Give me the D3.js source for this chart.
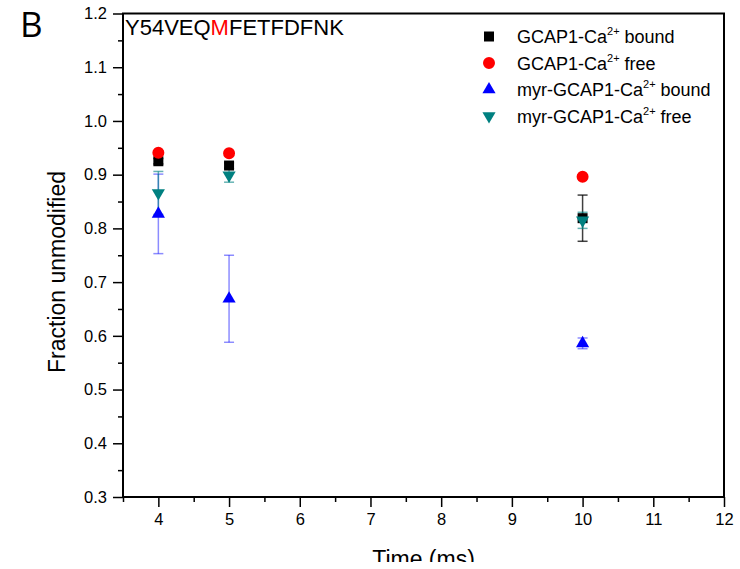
<!DOCTYPE html>
<html>
<head>
<meta charset="utf-8">
<script src="https://cdn.jsdelivr.net/npm/d3@7"></script>
<style>
  body { margin: 0; background: #fff; }
  svg { display: block; font-family: "Liberation Sans", Arial, sans-serif; }
</style>
</head>
<body>
<svg id="chart" width="740" height="569"></svg>
<script>
// time points (ms)
const times = [4, 5, 10];

// fraction unmodified per series, with error bar half-widths
const gcapBound = [0.925, 0.917, 0.819];
const gcapBoundErr = [0.005, 0.005, 0.043];
const gcapFree = [0.941, 0.940, 0.896];
const gcapFreeErr = [0.003, 0.004, 0.003];
const myrBound = [0.827, 0.669, 0.586];
const myrBoundErr = [0.074, 0.081, 0.010];
const myrFree = [0.866, 0.899, 0.815];
const myrFreeErr = [0.040, 0.013, 0.015];

const xTicks = [4, 5, 6, 7, 8, 9, 10, 11, 12];
const xMinor = [3.5, 4.5, 5.5, 6.5, 7.5, 8.5, 9.5, 10.5, 11.5];
const yTicks = [0.3, 0.4, 0.5, 0.6, 0.7, 0.8, 0.9, 1.0, 1.1, 1.2];
const yMinor = [0.35, 0.45, 0.55, 0.65, 0.75, 0.85, 0.95, 1.05, 1.15];

const series = [
	{name: 'GCAP1-Ca', state: ' bound', values: gcapBound, err: gcapBoundErr, color: '#000000', symbol: d3.symbolSquare, size: 100, rot: 0, errOpacity: 0.75},
	{name: 'GCAP1-Ca', state: ' free', values: gcapFree, err: gcapFreeErr, color: '#ff0000', symbol: d3.symbolCircle, size: 113, rot: 0, errOpacity: 0.6},
	{name: 'myr-GCAP1-Ca', state: ' bound', values: myrBound, err: myrBoundErr, color: '#0000ff', symbol: d3.symbolTriangle, size: 75, rot: 0, errOpacity: 0.45},
	{name: 'myr-GCAP1-Ca', state: ' free', values: myrFree, err: myrFreeErr, color: '#008080', symbol: d3.symbolTriangle, size: 75, rot: 180, errOpacity: 0.6}
];

const svg = d3.select('#chart');
const plotLeft = 123, plotRight = 724, plotTop = 13.5, plotBottom = 497;

const x = d3.scaleLinear().domain([3.5, 12]).range([plotLeft, plotRight]);
const y = d3.scaleLinear().domain([0.3, 1.2]).range([plotBottom, plotTop]);

// axes
svg.append('g')
	.attr('transform', 'translate(0,' + plotBottom + ')')
	.call(d3.axisBottom(x).tickValues(xTicks).tickSize(10).tickPadding(6).tickFormat(d3.format('d')))
	.call(g => g.select('.domain').remove())
	.call(g => g.selectAll('line').attr('stroke-width', 1.5))
	.call(g => g.selectAll('text').attr('font-size', 16.5).attr('font-family', null).attr('fill', '#000'));

svg.append('g')
	.attr('transform', 'translate(0,' + plotBottom + ')')
	.call(d3.axisBottom(x).tickValues(xMinor).tickSize(5).tickFormat(''))
	.call(g => g.select('.domain').remove())
	.call(g => g.selectAll('line').attr('stroke-width', 1.5));

svg.append('g')
	.attr('transform', 'translate(' + plotLeft + ',0)')
	.call(d3.axisLeft(y).tickValues(yTicks).tickSize(10).tickPadding(6).tickFormat(d3.format('.1f')))
	.call(g => g.select('.domain').remove())
	.call(g => g.selectAll('line').attr('stroke-width', 1.5))
	.call(g => g.selectAll('text').attr('font-size', 16.5).attr('font-family', null).attr('fill', '#000'));

svg.append('g')
	.attr('transform', 'translate(' + plotLeft + ',0)')
	.call(d3.axisLeft(y).tickValues(yMinor).tickSize(5).tickFormat(''))
	.call(g => g.select('.domain').remove())
	.call(g => g.selectAll('line').attr('stroke-width', 1.5));

// frame
svg.append('rect')
	.attr('x', plotLeft).attr('y', plotTop)
	.attr('width', plotRight - plotLeft).attr('height', plotBottom - plotTop)
	.attr('fill', 'none').attr('stroke', '#000').attr('stroke-width', 2);

// error bars
const errG = svg.append('g').attr('class', 'errorbars');
series.forEach(s => {
	const g = errG.append('g')
		.attr('stroke', s.color)
		.attr('stroke-opacity', s.errOpacity)
		.attr('stroke-width', 1.5);
	times.forEach((t, i) => {
		const cx = x(t);
		const y1 = y(s.values[i] + s.err[i]);
		const y2 = y(s.values[i] - s.err[i]);
		g.append('line').attr('x1', cx).attr('x2', cx).attr('y1', y1).attr('y2', y2);
		g.append('line').attr('x1', cx - 5).attr('x2', cx + 5).attr('y1', y1).attr('y2', y1);
		g.append('line').attr('x1', cx - 5).attr('x2', cx + 5).attr('y1', y2).attr('y2', y2);
	});
});

// markers
const markG = svg.append('g').attr('class', 'markers');
series.forEach(s => {
	const sym = d3.symbol().type(s.symbol).size(s.size);
	markG.append('g')
		.selectAll('path')
		.data(times.map((t, i) => ({t: t, v: s.values[i]})))
		.enter().append('path')
		.attr('d', sym)
		.attr('fill', s.color)
		.attr('transform', d => 'translate(' + x(d.t) + ',' + y(d.v) + ') rotate(' + s.rot + ')');
});

// legend
const legend = svg.append('g').attr('class', 'legend');
series.forEach((s, i) => {
	const ly = 36.5 + i * 26.5;
	const sym = d3.symbol().type(s.symbol).size(s.size);
	legend.append('path')
		.attr('d', sym)
		.attr('fill', s.color)
		.attr('transform', 'translate(489,' + ly + ') rotate(' + s.rot + ')');
	const txt = legend.append('text')
		.attr('x', 517).attr('y', ly + 6.5)
		.attr('font-size', 18).attr('fill', '#000');
	txt.append('tspan').text(s.name);
	txt.append('tspan').attr('font-size', 11).attr('dy', -8).text('2+');
	txt.append('tspan').attr('dy', 8).text(s.state);
});

// peptide label
const pep = svg.append('text')
	.attr('x', 125).attr('y', 35)
	.attr('font-size', 22).attr('fill', '#000');
pep.append('tspan').text('Y54VEQ');
pep.append('tspan').attr('fill', '#ff0000').text('M');
pep.append('tspan').text('FETFDFNK');

// panel letter
svg.append('text')
	.attr('x', 20).attr('y', 37)
	.attr('font-size', 35)
	.attr('font-family', '"Open Sans", "Liberation Sans", sans-serif')
	.text('B');

// axis titles
svg.append('text')
	.attr('transform', 'translate(65,272) rotate(-90)')
	.attr('text-anchor', 'middle')
	.attr('font-size', 23)
	.text('Fraction unmodified');

// x title sits at the cropped lower edge of the figure
svg.append('text')
	.attr('x', (plotLeft + plotRight) / 2).attr('y', 567)
	.attr('text-anchor', 'middle')
	.attr('font-size', 23)
	.text('Time (ms)');

svg.append('rect')
	.attr('x', 0).attr('y', 562)
	.attr('width', 740).attr('height', 7)
	.attr('fill', '#fff');
</script>
</body>
</html>
